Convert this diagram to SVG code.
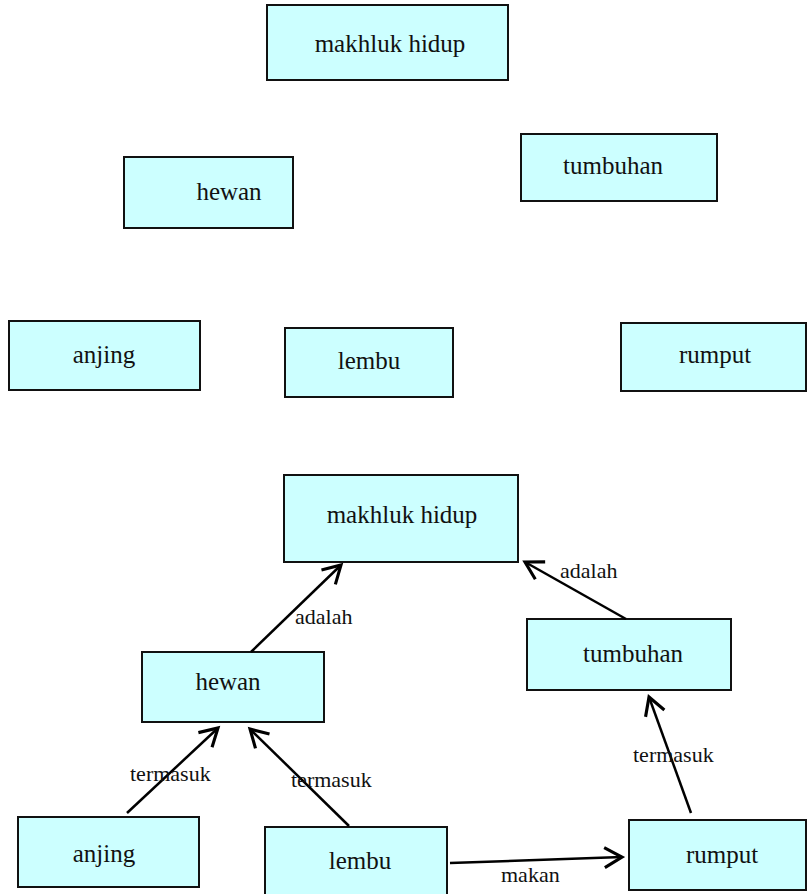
<svg xmlns="http://www.w3.org/2000/svg" width="807" height="894" viewBox="0 0 807 894">
<style>
.box{fill:#ccffff;stroke:#111;stroke-width:2}
.nt{font-family:"Liberation Serif","Times New Roman",serif;font-size:25px;fill:#111;text-anchor:middle}
.el{font-family:"Liberation Serif","Times New Roman",serif;font-size:22px;fill:#111}
.edge{stroke:#000;stroke-width:2.5;fill:none}
</style>
<defs>
<marker id="arr" markerUnits="userSpaceOnUse" markerWidth="30" markerHeight="30" refX="0" refY="0" viewBox="-16 -12 20 24" orient="auto" overflow="visible">
<path d="M -14 -8 L 0 0 L -14 8" fill="none" stroke="#000" stroke-width="2.5"/>
</marker>
</defs>
<rect width="807" height="894" fill="#fff"/>
<g id="top-makhluk"><rect class="box" x="267" y="5" width="241" height="75"/><text class="nt" x="390" y="52">makhluk hidup</text></g>
<g id="top-hewan"><rect class="box" x="124" y="157" width="169" height="71"/><text class="nt" x="229" y="200">hewan</text></g>
<g id="top-tumbuhan"><rect class="box" x="521" y="134" width="196" height="67"/><text class="nt" x="613" y="174">tumbuhan</text></g>
<g id="top-anjing"><rect class="box" x="9" y="321" width="191" height="69"/><text class="nt" x="104" y="363">anjing</text></g>
<g id="top-lembu"><rect class="box" x="285" y="328" width="168" height="69"/><text class="nt" x="369" y="369">lembu</text></g>
<g id="top-rumput"><rect class="box" x="621" y="323" width="185" height="68"/><text class="nt" x="715" y="363">rumput</text></g>

<g id="makhluk"><rect class="box" x="284" y="475" width="234" height="87"/><text class="nt" x="402" y="523">makhluk hidup</text></g>
<g id="hewan"><rect class="box" x="142" y="652" width="182" height="70"/><text class="nt" x="228" y="690">hewan</text></g>
<g id="tumbuhan"><rect class="box" x="527" y="619" width="204" height="71"/><text class="nt" x="633" y="662">tumbuhan</text></g>
<g id="anjing"><rect class="box" x="18" y="817" width="181" height="70"/><text class="nt" x="104" y="862">anjing</text></g>
<g id="lembu"><rect class="box" x="265" y="827" width="182" height="80"/><text class="nt" x="360" y="869">lembu</text></g>
<g id="rumput"><rect class="box" x="629" y="820" width="177" height="70"/><text class="nt" x="722" y="863">rumput</text></g>

<g id="connectors">
<line class="edge" x1="251" y1="652" x2="341" y2="565" marker-end="url(#arr)"/>
<line class="edge" x1="626" y1="619" x2="525" y2="562" marker-end="url(#arr)"/>
<line class="edge" x1="127" y1="813" x2="218" y2="728" marker-end="url(#arr)"/>
<line class="edge" x1="349" y1="826" x2="250" y2="729" marker-end="url(#arr)"/>
<line class="edge" x1="691" y1="813" x2="649" y2="697" marker-end="url(#arr)"/>
<line class="edge" x1="450" y1="863" x2="622" y2="857" marker-end="url(#arr)"/>
<text class="el" x="295" y="624">adalah</text>
<text class="el" x="560" y="578">adalah</text>
<text class="el" x="130" y="781">termasuk</text>
<text class="el" x="291" y="787">termasuk</text>
<text class="el" x="633" y="762">termasuk</text>
<text class="el" x="501" y="882">makan</text>
</g>
</svg>
